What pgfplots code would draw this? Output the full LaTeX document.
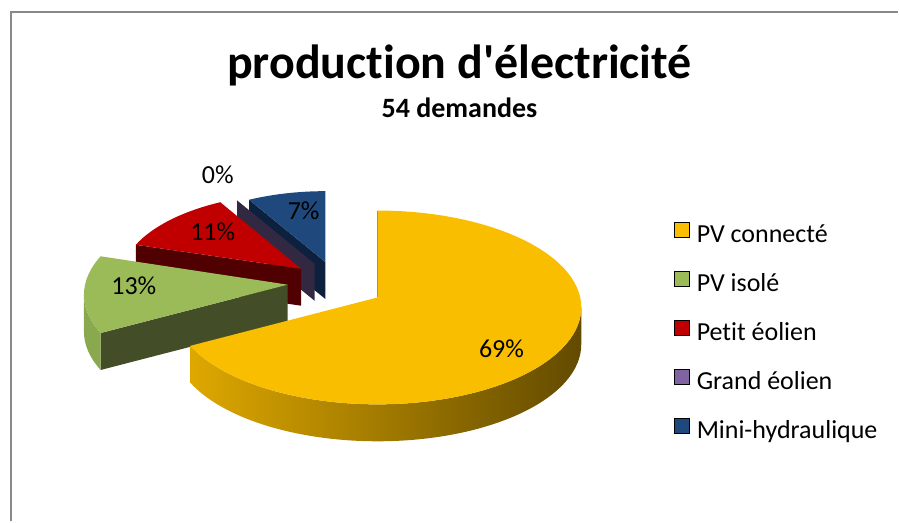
\documentclass[border=0pt]{standalone}
\usepackage{fontspec}
\setmainfont{Carlito}[Ligatures={NoCommon}]
\usepackage{pgfplots}
\usepackage{pgfplotstable}
\pgfplotsset{compat=1.18}

\definecolor{cPVc}{RGB}{249,190,0}
\definecolor{cPVcWallL}{RGB}{222,168,0}
\definecolor{cPVcWallR}{RGB}{98,74,0}
\definecolor{cPVi}{RGB}{155,187,89}
\definecolor{cPViWall}{RGB}{67,78,40}
\definecolor{cPViOut}{RGB}{138,168,78}
\definecolor{cPe}{RGB}{192,0,0}
\definecolor{cPeWall}{RGB}{80,0,0}
\definecolor{cGe}{RGB}{128,100,162}
\definecolor{cGeWall}{RGB}{50,40,66}
\definecolor{cMh}{RGB}{31,73,125}
\definecolor{cMhWall}{RGB}{13,33,62}
\definecolor{cFrame}{RGB}{137,137,137}

% number of requests per category (54 in total)
\pgfplotstableread[col sep=comma]{
label,count
PV connecté,37
PV isolé,7
Petit éolien,6
Grand éolien,0
Mini-hydraulique,4
}\pietable

% pie geometry (axis units = pixels of the reference)
\def\pieCx{337}\def\pieCy{237}
\def\pieRx{204}\def\pieRy{97}
\def\pieDl{10}\def\pieDep{37}\def\pieEx{0.24}\def\piePersp{0.17}

% apex (exploded centre) and radii of one slice, with a simple depth scaling
\newcommand\apex[3]{%
  \pgfmathsetmacro\tmpm{(#2+#3)/2}%
  \pgfmathsetmacro\tmps{1-\piePersp*max(0,sin(\tmpm))}%
  \pgfmathsetmacro\tmpx{\pieCx+\pieEx*\pieRx*cos(\tmpm)}%
  \pgfmathsetmacro\tmpy{\pieCy+\pieEx*\pieRy*sin(\tmpm)}%
  \pgfmathsetmacro\tmprx{\tmps*\pieRx}%
  \pgfmathsetmacro\tmpry{\tmps*\pieRy}%
  \pgfmathsetmacro\tmprxp{0.75*\tmprx}%
  \pgfmathsetmacro\tmpryp{0.75*\tmpry}%
  \expandafter\edef\csname ax#1\endcsname{\tmpx}%
  \expandafter\edef\csname ay#1\endcsname{\tmpy}%
  \expandafter\edef\csname rx#1\endcsname{\tmprx}%
  \expandafter\edef\csname ry#1\endcsname{\tmpry}%
  \expandafter\edef\csname rxp#1\endcsname{\tmprxp pt}%
  \expandafter\edef\csname ryp#1\endcsname{\tmpryp pt}}
\newcommand\rim[2]{({\csname ax#1\endcsname+\csname rx#1\endcsname*cos(#2)},{\csname ay#1\endcsname-\pieDl+\csname ry#1\endcsname*sin(#2)})}
\newcommand\rimd[2]{({\csname ax#1\endcsname+\csname rx#1\endcsname*cos(#2)},{\csname ay#1\endcsname-\pieDl-\pieDep+\csname ry#1\endcsname*sin(#2)})}
\newcommand\apx[1]{(\csname ax#1\endcsname,\csname ay#1\endcsname)}
\newcommand\apxd[1]{(\csname ax#1\endcsname,{\csname ay#1\endcsname-\pieDep})}

\begin{document}
\begin{tikzpicture}
\pgfplotstablegetelem{0}{count}\of\pietable\edef\nA{\pgfplotsretval}
\pgfplotstablegetelem{1}{count}\of\pietable\edef\nB{\pgfplotsretval}
\pgfplotstablegetelem{2}{count}\of\pietable\edef\nC{\pgfplotsretval}
\pgfplotstablegetelem{3}{count}\of\pietable\edef\nD{\pgfplotsretval}
\pgfplotstablegetelem{4}{count}\of\pietable\edef\nE{\pgfplotsretval}
\pgfmathsetmacro\Ntot{\nA+\nB+\nC+\nD+\nE}
\pgfmathsetmacro\bA{90}
\pgfmathsetmacro\aA{\bA-360*\nA/\Ntot}
\pgfmathsetmacro\aB{\aA-360*\nB/\Ntot}
\pgfmathsetmacro\aC{\aB-360*\nC/\Ntot}
\pgfmathsetmacro\aD{\aC-360*\nD/\Ntot}
\pgfmathsetmacro\aE{\aD-360*\nE/\Ntot}
\apex{A}{\aA}{\bA}
\apex{B}{\aB}{\aA}
\apex{C}{\aC}{\aB}
\apex{D}{\aD}{\aC}
\apex{E}{\aE}{\aD}
\begin{axis}[
  width=674.25pt, height=391.5pt, scale only axis,
  xmin=0, xmax=899, ymin=0, ymax=522,
  hide axis, clip=false,
  legend image code/.code={\fill[#1] (0pt,0pt) rectangle (11.25pt,11.25pt);},
  legend style={at={(axis cs:675,300)}, anchor=north west, draw=none, fill=none,
    inner sep=0pt, outer sep=0pt, row sep=16.3pt, column sep=5.25pt,
    font=\fontsize{19.5}{22}\selectfont,
    nodes={inner sep=0pt, text height=13.5pt, text depth=4.5pt}},
  legend cell align=left,
]
\path (axis cs:0,0) rectangle (axis cs:899,522);
% frame
\draw[cFrame, line width=1.5pt] (11,0) -- (11,510) -- (899,510);

% Mini-hydraulique
\fill[cMhWall] \apx{E} -- \rim{E}{\aD} -- \rimd{E}{\aD} -- \apxd{E} -- cycle;
\fill[cMh] \apx{E} -- \rim{E}{\aE} arc[start angle=\aE, end angle=\aD, x radius=\rxpE, y radius=\rypE] -- cycle;
% Grand eolien (0)
\fill[cGeWall] \apx{D} -- \rim{D}{\aC} -- \rimd{D}{\aC} -- \apxd{D} -- cycle;
% Petit eolien
\fill[cPeWall] \apx{C} -- \rim{C}{\aB} -- \rimd{C}{\aB} -- \apxd{C} -- cycle;
\fill[cPe] \apx{C} -- \rim{C}{\aC} arc[start angle=\aC, end angle=\aB, x radius=\rxpC, y radius=\rypC] -- cycle;
% PV isole
\fill[cPViWall] \apx{B} -- \rim{B}{\aA} -- \rimd{B}{\aA} -- \apxd{B} -- cycle;
\fill[cPViOut] \rim{B}{-180} arc[start angle=-180, end angle=\aA, x radius=\rxpB, y radius=\rypB] -- \rimd{B}{\aA} arc[start angle=\aA, end angle=-180, x radius=\rxpB, y radius=\rypB] -- cycle;
\fill[cPVi] \apx{B} -- \rim{B}{\aB} arc[start angle=\aB, end angle=\aA, x radius=\rxpB, y radius=\rypB] -- cycle;
% PV connecte
\shade[left color=cPVcWallL, right color=cPVcWallR] \rim{A}{\aA} arc[start angle=\aA, end angle=0, x radius=\rxpA, y radius=\rypA] -- \rimd{A}{0} arc[start angle=0, end angle=\aA, x radius=\rxpA, y radius=\rypA] -- cycle;
\draw[cPVcWallR, line width=1pt] \apx{A} -- \rim{A}{\bA};
\fill[cPVc] \apx{A} -- \rim{A}{\aA} arc[start angle=\aA, end angle=\bA, x radius=\rxpA, y radius=\rypA] -- cycle;

% data labels
\begin{scope}[font=\fontsize{19.5}{22}\selectfont]
\node at (218,347) {0\%};
\node at (304,311) {7\%};
\node at (213,290) {11\%};
\node at (134,236) {13\%};
\node at (502,173) {69\%};
\end{scope}
% titles
\node[anchor=base, font=\fontsize{36}{40}\selectfont\bfseries] at (460,443) {production d\textquotesingle électricité};
\node[anchor=base, font=\fontsize{21}{24}\selectfont\bfseries] at (460,404) {54 demandes};

\addlegendimage{fill=cPVc}\addlegendentry{PV connecté}
\addlegendimage{fill=cPVi}\addlegendentry{PV isolé}
\addlegendimage{fill=cPe}\addlegendentry{Petit éolien}
\addlegendimage{fill=cGe}\addlegendentry{Grand éolien}
\addlegendimage{fill=cMh}\addlegendentry{Mini-hydraulique}
\end{axis}
\end{tikzpicture}
\end{document}
